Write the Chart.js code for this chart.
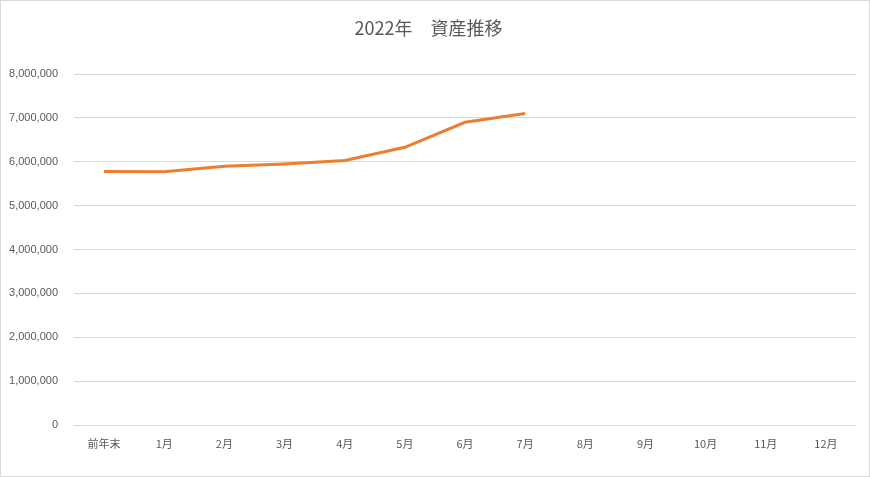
<!DOCTYPE html>
<html>
<head>
<meta charset="utf-8">
<script src="https://cdn.jsdelivr.net/npm/chart.js@4"></script>
<style>
  html, body { margin: 0; padding: 0; background: #fff; }
  #wrap { width: 870px; height: 477px; box-sizing: border-box; border: 1px solid #d9d9d9; }
</style>
</head>
<body>
<div id="wrap"><canvas id="assetChart" width="868" height="475"></canvas></div>
<script>
// 2022年 資産推移
const labels = ["前年末", "1月", "2月", "3月", "4月", "5月", "6月", "7月", "8月", "9月", "10月", "11月", "12月"];
const assets = [5780000, 5770000, 5900000, 5950000, 6030000, 6330000, 6900000, 7100000, null, null, null, null, null];
const yMax = 8000000;
const yStep = 1000000;

const textColor = "#595959";
const gridColor = "#d9d9d9";

const ctx = document.getElementById("assetChart").getContext("2d");
new Chart(ctx, {
  type: "line",
  data: {
    labels,
    datasets: [{
      label: "資産",
      data: assets,
      borderColor: "#ED7D31",
      borderWidth: 3,
      pointRadius: 0,
      tension: 0,
      fill: false
    }]
  },
  options: {
    responsive: false,
    animation: false,
    layout: { padding: { left: 0, right: 13, top: 0, bottom: 0 } },
    plugins: {
      legend: { display: false },
      tooltip: { enabled: false },
      title: {
        display: true,
        text: "2022年　資産推移",
        color: textColor,
        font: { family: "'Noto Sans CJK JP', sans-serif", size: 18, weight: "normal", lineHeight: 1.2 },
        padding: { top: 16, bottom: 35.4 }
      }
    },
    scales: {
      x: {
        offset: true,
        grid: { display: false, drawTicks: false },
        border: { display: false },
        ticks: {
          color: textColor,
          padding: 12,
          maxRotation: 0,
          autoSkip: false,
          font: { family: "'Noto Sans CJK JP', sans-serif", size: 11 }
        },
        afterFit: (scale) => { scale.height = 51; }
      },
      y: {
        min: 0,
        max: yMax,
        grid: { color: gridColor, drawTicks: false },
        border: { display: false },
        ticks: {
          stepSize: yStep,
          color: textColor,
          padding: 16,
          font: { family: "'Liberation Sans', sans-serif", size: 11 },
          callback: (v) => v.toLocaleString("en-US")
        },
        afterFit: (scale) => { scale.width = 73; }
      }
    }
  }
});
</script>
</body>
</html>
